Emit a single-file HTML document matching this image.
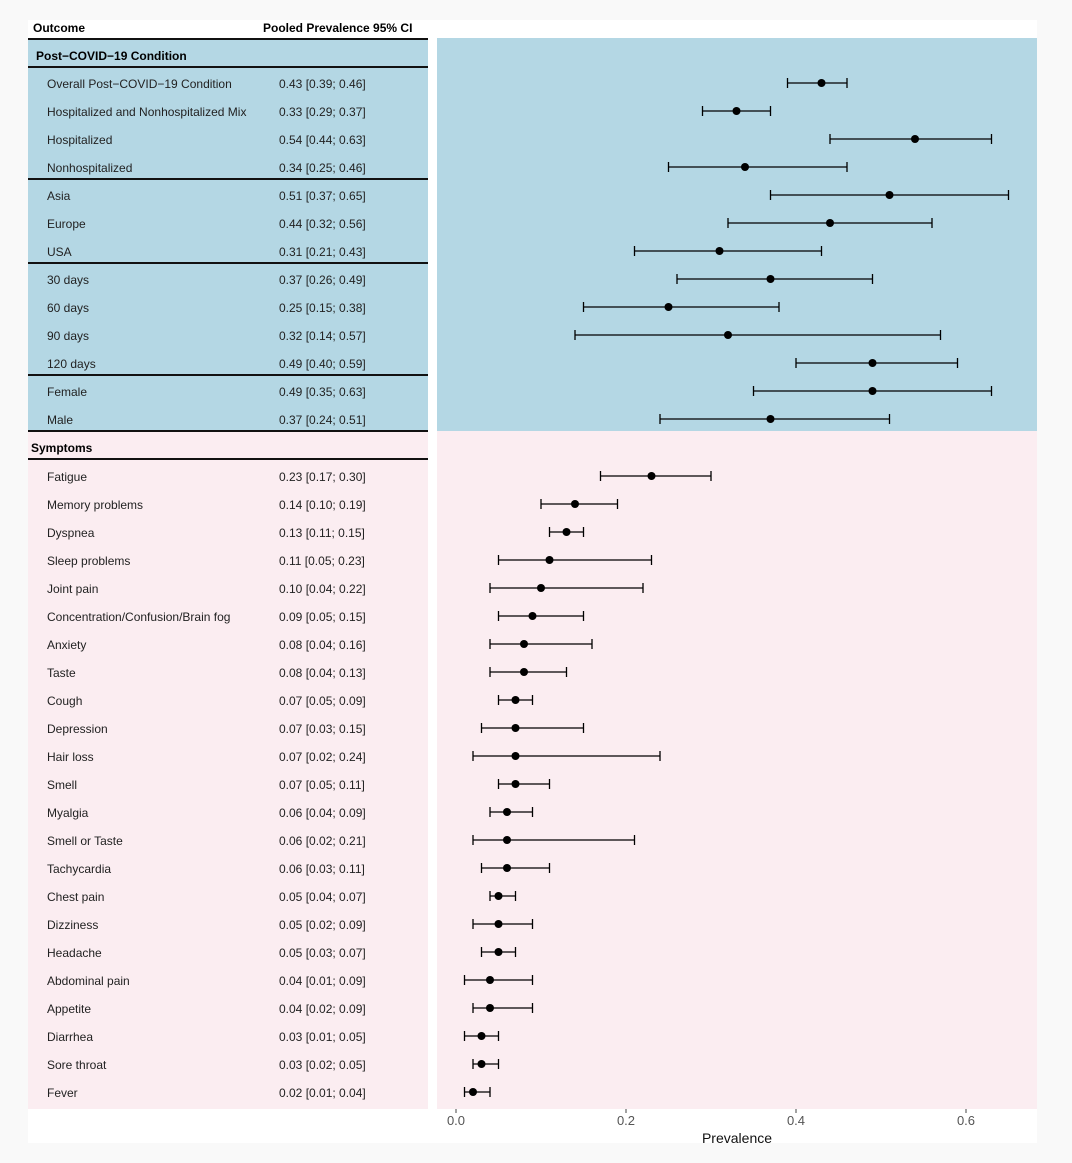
<!DOCTYPE html>
<html><head><meta charset="utf-8"><style>
body{margin:0;background:#f9f9f9;}
svg{display:block;font-family:"Liberation Sans",sans-serif;}
</style></head><body>
<svg id="chart" width="1072" height="1163">
<rect x="28" y="20" width="1009" height="1123" fill="#fff"/>
<rect x="28" y="38" width="400" height="393" fill="#b4d7e4"/>
<rect x="437" y="38" width="600" height="393" fill="#b4d7e4"/>
<rect x="28" y="431" width="400" height="678" fill="#fbedf1"/>
<rect x="437" y="431" width="600" height="678" fill="#fbedf1"/>
<text x="33" y="32" font-size="12" font-weight="bold">Outcome</text>
<text x="263" y="32" font-size="12" font-weight="bold">Pooled Prevalence 95% CI</text>
<g id="table"></g>
<g id="marks"></g>
<g id="axis"></g>
<text x="737" y="1143" font-size="14" text-anchor="middle" fill="#111">Prevalence</text>
</svg>
<script>
const labels=["Overall Post\u2212COVID\u221219 Condition","Hospitalized and Nonhospitalized Mix","Hospitalized","Nonhospitalized","Asia","Europe","USA","30 days","60 days","90 days","120 days","Female","Male",
"Fatigue","Memory problems","Dyspnea","Sleep problems","Joint pain","Concentration/Confusion/Brain fog","Anxiety","Taste","Cough","Depression","Hair loss","Smell","Myalgia","Smell or Taste","Tachycardia","Chest pain","Dizziness","Headache","Abdominal pain","Appetite","Diarrhea","Sore throat","Fever"];
const est=[0.43,0.33,0.54,0.34,0.51,0.44,0.31,0.37,0.25,0.32,0.49,0.49,0.37,
0.23,0.14,0.13,0.11,0.10,0.09,0.08,0.08,0.07,0.07,0.07,0.07,0.06,0.06,0.06,0.05,0.05,0.05,0.04,0.04,0.03,0.03,0.02];
const lower=[0.39,0.29,0.44,0.25,0.37,0.32,0.21,0.26,0.15,0.14,0.40,0.35,0.24,
0.17,0.10,0.11,0.05,0.04,0.05,0.04,0.04,0.05,0.03,0.02,0.05,0.04,0.02,0.03,0.04,0.02,0.03,0.01,0.02,0.01,0.02,0.01];
const upper=[0.46,0.37,0.63,0.46,0.65,0.56,0.43,0.49,0.38,0.57,0.59,0.63,0.51,
0.30,0.19,0.15,0.23,0.22,0.15,0.16,0.13,0.09,0.15,0.24,0.11,0.09,0.21,0.11,0.07,0.09,0.07,0.09,0.09,0.05,0.05,0.04];
const ticks=[0,0.2,0.4,0.6];
const ns="http://www.w3.org/2000/svg";
const xs=v=>456+v*850;
const ys=i=>i<13?83+i*28:476+(i-13)*28;
function mk(t,a,p){const e=document.createElementNS(ns,t);for(const k in a)e.setAttribute(k,a[k]);p.appendChild(e);return e;}
const tb=document.getElementById('table'),mg=document.getElementById('marks'),ax=document.getElementById('axis');
const lines=[39,67,179,263,375,431,459];
lines.forEach(y=>{const l=mk('line',{x1:28,x2:428,y1:y,y2:y,stroke:'#111','stroke-width':2},tb);

});
let h=mk('text',{x:36,y:60,'font-size':12,'font-weight':'bold'},tb);h.textContent="Post\u2212COVID\u221219 Condition";


h=mk('text',{x:31,y:452,'font-size':12,'font-weight':'bold'},tb);h.textContent="Symptoms";


labels.forEach((lab,i)=>{const y=ys(i);
const t=mk('text',{x:47,y:y+5,'font-size':12,fill:'#222'},tb);t.textContent=lab;


const v=mk('text',{x:279,y:y+5,'font-size':12,fill:'#222'},tb);
v.textContent=est[i].toFixed(2)+" ["+lower[i].toFixed(2)+"; "+upper[i].toFixed(2)+"]";


const g=mk('g',{},mg);


const st={stroke:'#000','stroke-width':1.3};
mk('line',Object.assign({x1:xs(lower[i]),x2:xs(upper[i]),y1:y,y2:y},st),g);
mk('line',Object.assign({x1:xs(lower[i]),x2:xs(lower[i]),y1:y-5,y2:y+5},st),g);
mk('line',Object.assign({x1:xs(upper[i]),x2:xs(upper[i]),y1:y-5,y2:y+5},st),g);
mk('circle',{cx:xs(est[i]),cy:y,r:4,fill:'#000'},g);});
ticks.forEach(v=>{mk('line',{x1:xs(v),x2:xs(v),y1:1109,y2:1113,stroke:'#444'},ax);
const t=mk('text',{x:xs(v),y:1125,'font-size':13,fill:'#555','text-anchor':'middle'},ax);t.textContent=v.toFixed(1);

});
</script>
</body></html>
